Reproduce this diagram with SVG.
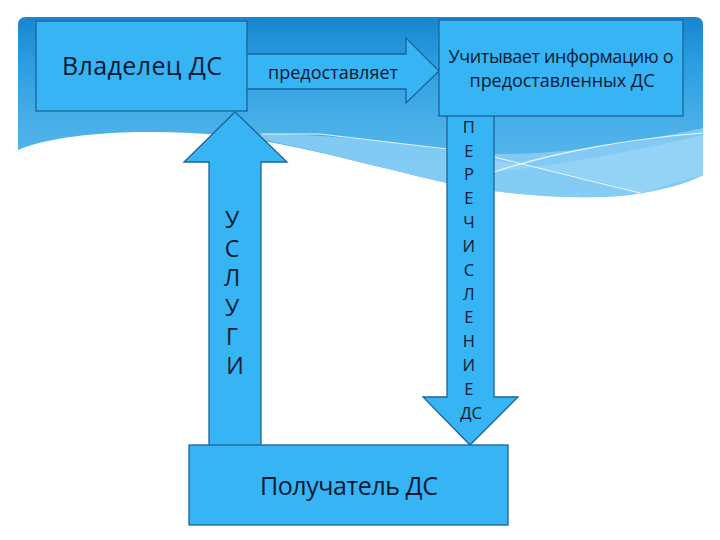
<svg xmlns="http://www.w3.org/2000/svg" width="720" height="540" viewBox="0 0 720 540">
  <defs>
    <linearGradient id="bannerGrad" x1="0" y1="17" x2="0" y2="200" gradientUnits="userSpaceOnUse">
      <stop offset="0" stop-color="#1785cf"/>
      <stop offset="0.25" stop-color="#2b9de2"/>
      <stop offset="0.6" stop-color="#4aafe8"/>
      <stop offset="1" stop-color="#62bcee"/>
    </linearGradient>
    <style>
      .box { fill: #36b4f3; stroke: #1c6399; stroke-width: 1.3; }
      .arrow { fill: #36b4f3; stroke: #1c6399; stroke-width: 1.3; stroke-linejoin: miter; }
      .txt { font-family: "Open Sans", "Noto Sans", "DejaVu Sans", sans-serif; fill: #0b1a33; text-anchor: middle; }
      .wline { fill: none; stroke: #ffffff; stroke-width: 1.1; opacity: 0.85; }
    </style>
  </defs>

  <rect x="0" y="0" width="720" height="540" fill="#ffffff"/>

  <g id="banner">
    <path d="M18,25 Q18,17 26,17 H695 Q703,17 703,25 V175 C690,182 660,192 620,196 C560,200 500,194 447,183 C380,168 300,145 230,136 C150,128 60,132 18,150 Z" fill="url(#bannerGrad)"/>
    <path d="M240,134 C300,132 380,140 447,150 C520,160 600,150 703,128 V175 C690,182 660,192 620,196 C560,200 500,194 447,183 C380,168 300,145 240,136 Z" fill="#92d2f5" opacity="0.75"/>
    <path d="M494,160 C560,172 600,180 640,193 L703,175 V135 C640,150 560,165 494,172 Z" fill="#a6dbf7" opacity="0.5"/>
    <path class="wline" d="M262,134 L320,134 L447,149"/>
    <path class="wline" d="M494,157 L640,193"/>
    <path class="wline" d="M494,172 C560,150 640,138 703,133"/>
  </g>

  <g id="connectors">
    <g id="arrow-provides">
      <polygon class="arrow" points="246,54 406,54 406,38 439,71 406,103 406,89 246,89"/>
      <text class="txt" x="333" y="79" font-size="18" textLength="130">предоставляет</text>
    </g>
    <g id="arrow-services">
      <polygon class="arrow" points="235,112 287,162 261,162 261,446 209,446 209,162 184,162"/>
      <text class="txt" font-size="23">
        <tspan x="235" y="228">У</tspan>
        <tspan x="235" y="257">С</tspan>
        <tspan x="235" y="286">Л</tspan>
        <tspan x="235" y="316">У</tspan>
        <tspan x="235" y="345">Г</tspan>
        <tspan x="235" y="374">И</tspan>
      </text>
    </g>
    <g id="arrow-transfer">
      <polygon class="arrow" points="447,115 494,115 494,397 518,397 470,445 423,397 447,397"/>
      <text class="txt" font-size="16.5">
        <tspan x="471" y="133">П</tspan>
        <tspan x="471" y="157">Е</tspan>
        <tspan x="471" y="180">Р</tspan>
        <tspan x="471" y="204">Е</tspan>
        <tspan x="471" y="228">Ч</tspan>
        <tspan x="471" y="252">И</tspan>
        <tspan x="471" y="276">С</tspan>
        <tspan x="471" y="300">Л</tspan>
        <tspan x="471" y="323">Е</tspan>
        <tspan x="471" y="347">Н</tspan>
        <tspan x="471" y="371">И</tspan>
        <tspan x="471" y="395">Е</tspan>
        <tspan x="471" y="419">ДС</tspan>
      </text>
    </g>
  </g>

  <g id="owner">
    <rect class="box" x="36" y="21" width="211" height="90"/>
    <text class="txt" x="142" y="75" font-size="25" textLength="160">Владелец ДС</text>
  </g>

  <g id="info">
    <rect class="box" x="439" y="20" width="244" height="96"/>
    <text class="txt" x="561" y="63" font-size="18" textLength="225">Учитывает информацию о</text>
    <text class="txt" x="562" y="87" font-size="18" textLength="185">предоставленных ДС</text>
  </g>

  <g id="recipient">
    <rect class="box" x="189" y="445" width="319" height="80"/>
    <text class="txt" x="349" y="495" font-size="25" textLength="178">Получатель ДС</text>
  </g>
</svg>
